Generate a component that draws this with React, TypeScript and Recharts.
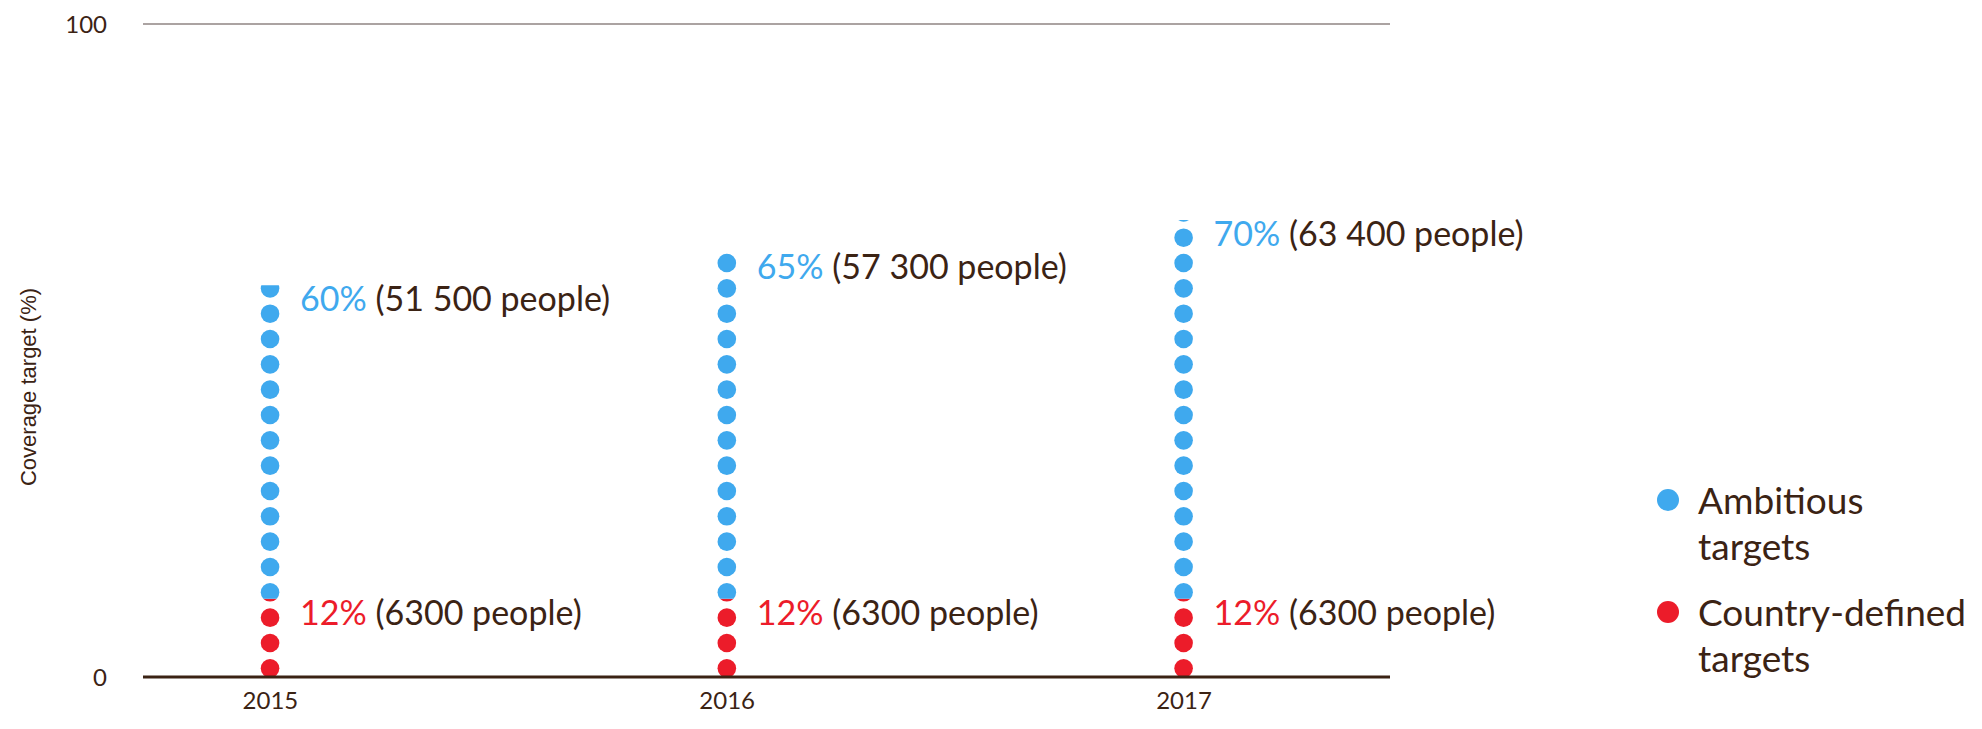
import React from 'react';
import { ComposedChart, Bar, XAxis, YAxis, ReferenceLine, LabelList, Label } from 'recharts';

const years = [2015, 2016, 2017];
const ambitiousPct = [60, 65, 70];
const ambitiousPeople = ['51 500', '57 300', '63 400'];
const countryPct = [12, 12, 12];
const countryPeople = ['6300', '6300', '6300'];
const yTicks = [0, 100];

const BLUE = '#3fa9ee';
const RED = '#ec1c2a';
const BROWN = '#3b2314';
const GRID = '#8f8583';
const FONT = 'Lato, "Open Sans", sans-serif';

// stacked: red segment sits on the baseline, blue segment on top of it
const data = years.map((year, i) => ({
  year,
  country: countryPct[i],
  ambitious: ambitiousPct[i] - countryPct[i],
  ambitiousTotal: ambitiousPct[i],
  ambitiousPeople: ambitiousPeople[i],
  countryTotal: countryPct[i],
  countryPeople: countryPeople[i],
}));

const DOT_R = 9.3;
const DOT_STEP = 25.33;
const DOT_OFFSET = 8.7;

// draws the segment as a column of dots on a grid that starts at the axis baseline
const makeDotShape = (key: 'country' | 'ambitious') => (props: any) => {
  const { x, y, width, height, fill, payload, index } = props;
  if (!height || height <= 0) return <g />;
  const below = key === 'ambitious' ? payload.country : 0;
  const pxPerUnit = height / payload[key];
  const baseline = y + height + below * pxPerUnit;
  const cx = x + width / 2;
  const dots: React.ReactNode[] = [];
  for (let k = 0; k < 60; k++) {
    const cy = baseline - DOT_OFFSET - k * DOT_STEP;
    if (cy + DOT_R < y) break;
    if (cy - DOT_R > y + height) continue;
    dots.push(<circle key={k} cx={cx} cy={cy} r={DOT_R} fill={fill} />);
  }
  const id = `dots-${key}-${index}`;
  return (
    <g>
      <defs>
        <clipPath id={id}>
          <rect x={x - 20} y={y} width={width + 40} height={height} />
        </clipPath>
      </defs>
      <g clipPath={`url(#${id})`}>{dots}</g>
    </g>
  );
};

const makeLabel = (pctKey: 'ambitiousTotal' | 'countryTotal', peopleKey: 'ambitiousPeople' | 'countryPeople', color: string) =>
  (props: any) => {
    const { x, y, width, index } = props;
    const row = data[index];
    return (
      <text x={x + width / 2 + 30} y={y + 26} fontSize={34} fontFamily={FONT} fill={BROWN}>
        <tspan fill={color}>{`${row[pctKey]}%`}</tspan>
        {` (${row[peopleKey]} people)`}
      </text>
    );
  };

const renderYLabel = () => (
  <text
    x={36}
    y={387}
    transform="rotate(-90 36 387)"
    textAnchor="middle"
    fontSize={22}
    fontFamily='"Liberation Sans", Arial, sans-serif'
    fill={BROWN}
  >
    Coverage target (%)
  </text>
);

const legendItems = [
  { color: BLUE, lines: ['Ambitious', 'targets'], top: 500 },
  { color: RED, lines: ['Country-defined', 'targets'], top: 612 },
];

export default function App() {
  return (
    <div style={{ position: 'absolute', left: 0, top: 0, width: 1982, height: 729, background: '#fff' }}>
      <ComposedChart width={1982} height={729} data={data} margin={{ top: 24, right: 592, bottom: 22, left: 0 }}>
        <XAxis
          type="number"
          dataKey="year"
          domain={[2014.721, 2017.451]}
          ticks={years}
          allowDataOverflow
          axisLine={false}
          tickLine={false}
          tickSize={0}
          tickMargin={15}
          height={30}
          tick={{ fill: BROWN, fontSize: 24, fontFamily: FONT }}
        />
        <YAxis
          type="number"
          domain={[0, 100]}
          ticks={yTicks}
          axisLine={false}
          tickLine={false}
          tickSize={0}
          tickMargin={36}
          width={143}
          tick={{ fill: BROWN, fontSize: 24, fontFamily: FONT }}
        >
          <Label content={renderYLabel} />
        </YAxis>
        <ReferenceLine y={100} stroke={GRID} strokeWidth={1.5} />
        <Bar dataKey="country" stackId="a" fill={RED} barSize={22} shape={makeDotShape('country')} isAnimationActive={false}>
          <LabelList dataKey="country" content={makeLabel('countryTotal', 'countryPeople', RED)} />
        </Bar>
        <Bar dataKey="ambitious" stackId="a" fill={BLUE} barSize={22} shape={makeDotShape('ambitious')} isAnimationActive={false}>
          <LabelList dataKey="ambitious" content={makeLabel('ambitiousTotal', 'ambitiousPeople', BLUE)} />
        </Bar>
        <ReferenceLine y={0} stroke={BROWN} strokeWidth={3} />
      </ComposedChart>
      {legendItems.map((item) => (
        <div key={item.lines[0]} style={{ position: 'absolute', left: 1657, top: item.top - 11 }}>
          <div style={{ width: 22, height: 22, borderRadius: 11, background: item.color }} />
          <div
            style={{
              position: 'absolute',
              left: 41,
              top: 11 - 23,
              fontFamily: FONT,
              fontSize: 37,
              lineHeight: '46px',
              color: BROWN,
              whiteSpace: 'nowrap',
            }}
          >
            {item.lines.map((l) => (
              <div key={l}>{l}</div>
            ))}
          </div>
        </div>
      ))}
    </div>
  );
}
